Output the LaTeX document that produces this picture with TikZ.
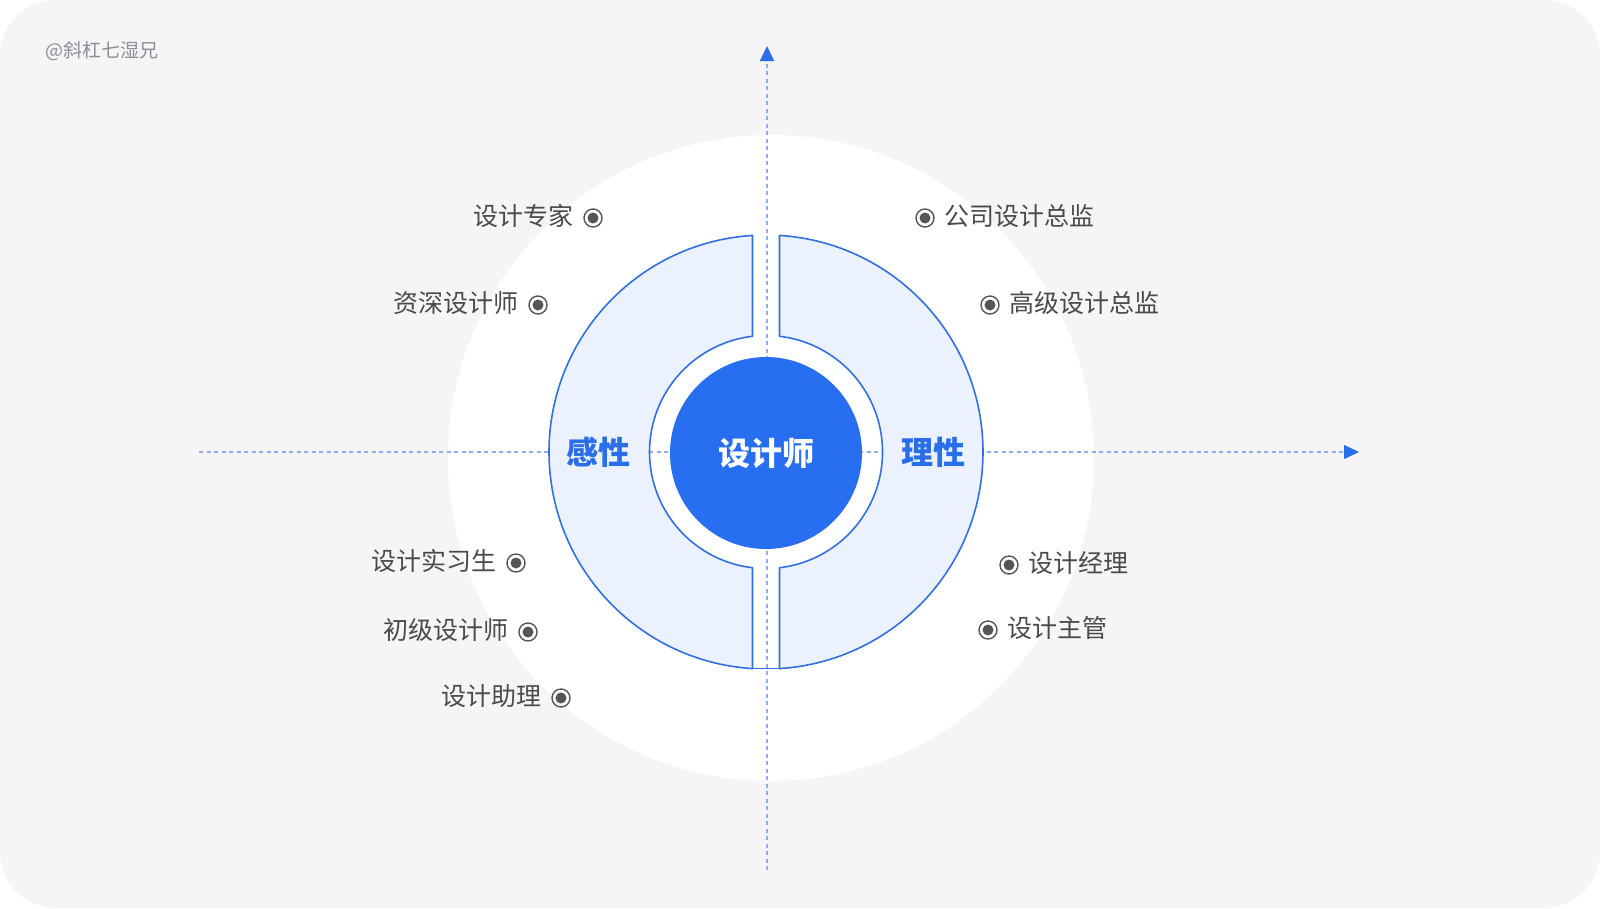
\documentclass[tikz,border=0pt]{standalone}
\usepackage{fontspec}
\setmainfont{Noto Sans CJK SC}
\usetikzlibrary{calc,arrows.meta}
\definecolor{bggray}{HTML}{F5F5F7}
\definecolor{ringfill}{HTML}{EBF2FD}
\definecolor{ringline}{HTML}{3070E0}
\definecolor{coreblue}{HTML}{276EF1}
\definecolor{textblue}{HTML}{2A6EEA}
\definecolor{dashblue}{HTML}{8DAEEA}
\definecolor{arrowblue}{HTML}{2A6EEC}
\definecolor{labelgray}{HTML}{4A4A4A}
\definecolor{icongray}{HTML}{555555}
\definecolor{markgray}{HTML}{8E8E98}
\begin{document}
\begin{tikzpicture}[x=1pt,y=-1pt,
  axisline/.style={dashblue, line width=1.4pt, dash pattern=on 4pt off 3.5pt,
    -{Triangle[length=15pt,width=14pt,color=arrowblue]}},
  ringpart/.style={fill=ringfill, draw=ringline, line width=1.6pt, line join=round},
  radio/.style={circle, draw=icongray, line width=1.4pt, minimum size=18pt, inner sep=0pt,
    path picture={\fill[icongray] (path picture bounding box.center) circle (5.5);}},
  lbl/.style={inner sep=0pt, text=labelgray, font=\fontsize{25}{30}\selectfont},
  sidelbl/.style={inner sep=0pt, text=textblue, font=\bfseries\fontsize{32}{36}\selectfont}
]
\useasboundingbox (0,0) rectangle (1600,908);
\fill[white] (0,0) rectangle (1600,908);
\fill[bggray, rounded corners=56pt] (0,0) rectangle (1600,908);
\fill[white] (771,458) circle (323);

% axes
\coordinate (hstart) at (199,452);
\coordinate (hend) at (1359,452);
\coordinate (vstart) at (767,870);
\coordinate (vend) at (767,46);
\draw[axisline] (hstart) -- (hend);
\draw[axisline] (vstart) -- (vend);

% ring
\coordinate (C) at (766,452);
\filldraw[ringpart] ($(C)+(266.43:217)$) arc[start angle=266.43,end angle=93.57,radius=217]
  -- ($(C)+(96.65:116.5)$) arc[start angle=96.65,end angle=263.35,radius=116.5] -- cycle;
\filldraw[ringpart] ($(C)+(273.57:217)$) arc[start angle=273.57,end angle=446.43,radius=217]
  -- ($(C)+(83.35:116.5)$) arc[start angle=83.35,end angle=-83.35,radius=116.5] -- cycle;
\coordinate (lb) at ($(C)+(93.57:217)$);
\coordinate (rb) at ($(C)+(86.43:217)$);
\draw[ringline, line width=1.6pt] (lb) -- (rb);

\node[circle, fill=coreblue, minimum size=192pt, inner sep=0pt, text=white,
  font=\bfseries\fontsize{32}{36}\selectfont] (core) at (766,453) {设计师};
\node[sidelbl] (gan) at (598,452) {感性};
\node[sidelbl] (li) at (933,452) {理性};

% left labels
\node[radio] (i1) at (593,218) {};
\node[lbl, anchor=east] (t1) at ($(i1)+(-19,-2)$) {设计专家};
\node[radio] (i2) at (538,305) {};
\node[lbl, anchor=east] (t2) at ($(i2)+(-19,-2)$) {资深设计师};
\node[radio] (i3) at (516,563) {};
\node[lbl, anchor=east] (t3) at ($(i3)+(-19,-2)$) {设计实习生};
\node[radio] (i4) at (528,632) {};
\node[lbl, anchor=east] (t4) at ($(i4)+(-19,-2)$) {初级设计师};
\node[radio] (i5) at (561,698) {};
\node[lbl, anchor=east] (t5) at ($(i5)+(-19,-2)$) {设计助理};

% right labels
\node[radio] (i6) at (925,218) {};
\node[lbl, anchor=west] (t6) at ($(i6)+(19,-2)$) {公司设计总监};
\node[radio] (i7) at (990,305) {};
\node[lbl, anchor=west] (t7) at ($(i7)+(19,-2)$) {高级设计总监};
\node[radio] (i8) at (1009,565) {};
\node[lbl, anchor=west] (t8) at ($(i8)+(19,-2)$) {设计经理};
\node[radio] (i9) at (988,630) {};
\node[lbl, anchor=west] (t9) at ($(i9)+(19,-2)$) {设计主管};

% watermark
\node[inner sep=0pt, anchor=west, text=markgray, font=\fontsize{19}{23}\selectfont] (mark) at (45,51) {@斜杠七湿兄};
\end{tikzpicture}
\end{document}
